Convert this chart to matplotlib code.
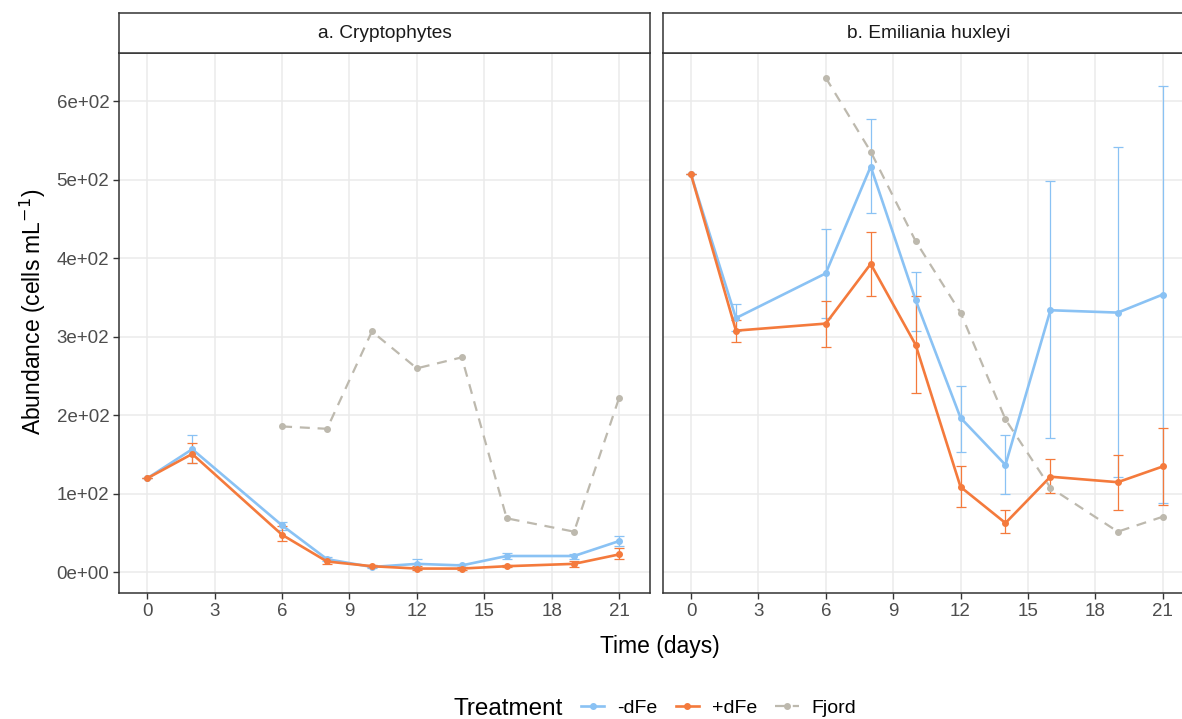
import matplotlib
matplotlib.use("Agg")
import matplotlib.pyplot as plt
import numpy as np

plt.rcParams['font.family'] = ['Liberation Sans', 'DejaVu Sans']

# sampling days
days = [0, 2, 6, 8, 10, 12, 14, 16, 19, 21]
fjord_days = [6, 8, 10, 12, 14, 16, 19, 21]

# a. Cryptophytes
crypto_minus = [120, 157, 60, 17, 7, 11, 9, 21, 21, 40]
crypto_minus_lo = [120, 139, 54, 14, 6, 5, 7, 17, 17, 34]
crypto_minus_hi = [120, 175, 64, 20, 9, 17, 11, 25, 24, 46]
crypto_plus = [120, 151, 48, 14, 8, 5, 5, 8, 11, 23]
crypto_plus_lo = [120, 139, 40, 11, 7, 3, 3, 7, 7, 17]
crypto_plus_hi = [120, 165, 59, 17, 9, 8, 7, 10, 15, 31]
crypto_fjord = [186, 183, 307, 260, 274, 69, 52, 222]

# b. Emiliania huxleyi
ehux_minus = [507, 324, 381, 517, 347, 197, 137, 334, 331, 354]
ehux_minus_lo = [507, 307, 324, 458, 308, 154, 100, 171, 121, 88]
ehux_minus_hi = [507, 342, 437, 577, 383, 238, 175, 498, 542, 620]
ehux_plus = [507, 308, 317, 393, 290, 109, 63, 122, 115, 135]
ehux_plus_lo = [507, 293, 287, 352, 229, 84, 50, 101, 80, 86]
ehux_plus_hi = [507, 322, 346, 434, 352, 135, 79, 144, 150, 184]
ehux_fjord = [630, 536, 422, 331, 195, 108, 52, 71]

panel_titles = ["a. Cryptophytes", "b. Emiliania huxleyi"]
treatments = ["-dFe", "+dFe", "Fjord"]
colors = {"-dFe": "#8AC2F4", "+dFe": "#F47A3C", "Fjord": "#BDB9AE"}
yticks = [0, 100, 200, 300, 400, 500, 600]
ytick_labels = ["0e+00", "1e+02", "2e+02", "3e+02", "4e+02", "5e+02", "6e+02"]
xticks = [0, 3, 6, 9, 12, 15, 18, 21]

W, H = 1182, 719
fig = plt.figure(figsize=(W / 100, H / 100), dpi=100)
fig.patch.set_facecolor("white")

panels = [
    (crypto_minus, crypto_minus_lo, crypto_minus_hi,
     crypto_plus, crypto_plus_lo, crypto_plus_hi, crypto_fjord),
    (ehux_minus, ehux_minus_lo, ehux_minus_hi,
     ehux_plus, ehux_plus_lo, ehux_plus_hi, ehux_fjord),
]
lefts = [119, 662.7]
pw = 531
top, bottom = 52.7, 593.3
strip_top = 13.3

handles = []
for i, (m, mlo, mhi, p, plo, phi, fj) in enumerate(panels):
    ax = fig.add_axes([lefts[i] / W, (H - bottom) / H, pw / W, (bottom - top) / H])
    sax = fig.add_axes([lefts[i] / W, (H - top) / H, pw / W, (top - strip_top) / H])

    # strip
    sax.set_xticks([])
    sax.set_yticks([])
    for s in sax.spines.values():
        s.set_color("#333333")
        s.set_linewidth(1.1)
    sax.text(0.5, 0.5, panel_titles[i], ha="center", va="center",
             fontsize=13.8, color="#1A1A1A", transform=sax.transAxes)

    for name, mean, lo, hi in [("-dFe", m, mlo, mhi), ("+dFe", p, plo, phi)]:
        mean = np.array(mean)
        yerr = [mean - np.array(lo), np.array(hi) - mean]
        ax.errorbar(days, mean, yerr=yerr, fmt="none", ecolor=colors[name],
                    elinewidth=0.9, capsize=3.6, capthick=0.9, zorder=3)
        h, = ax.plot(days, mean, color=colors[name], lw=1.9, marker="o",
                     markersize=4, zorder=4, label=name)
        if i == 0:
            handles.append(h)
    h, = ax.plot(fjord_days, fj, color=colors["Fjord"], lw=1.6, ls=(0, (4.5, 3.5)),
                 marker="o", markersize=4, zorder=5, label="Fjord")
    if i == 0:
        handles.append(h)

    ax.set_xlim(-1.26, 22.38)
    ax.set_ylim(-26.5, 662)
    ax.set_xticks(xticks)
    ax.set_xticklabels([str(t) for t in xticks])
    ax.set_yticks(yticks)
    if i == 0:
        ax.set_yticklabels(ytick_labels)
        ax.tick_params(axis="y", length=4, width=1, color="#333333",
                       labelsize=13.5, labelcolor="#4D4D4D", pad=3)
    else:
        ax.tick_params(axis="y", length=0, labelleft=False)
    ax.tick_params(axis="x", length=4, width=1, color="#333333",
                   labelsize=13.5, labelcolor="#4D4D4D", pad=3)
    ax.grid(True, color="#EBEBEB", lw=1.1, zorder=0)
    ax.set_axisbelow(True)
    for s in ax.spines.values():
        s.set_color("#333333")
        s.set_linewidth(1.1)

fig.text(33 / W, 1 - 312 / H, "Abundance (cells mL$^{-1}$)", rotation=90,
         ha="center", va="center", fontsize=16.5)
fig.text(660 / W, 1 - 646 / H, "Time (days)", ha="center", va="center",
         fontsize=16.5)
fig.text(453 / W, 1 - 709 / H, "Treatment", ha="left", va="center",
         fontsize=17.5)
fig.legend(handles, treatments, loc="center left",
           bbox_to_anchor=(581 / W, 1 - 708 / H), ncol=3, frameon=False,
           fontsize=14, handlelength=1.2, handletextpad=0.65,
           columnspacing=0.95, borderpad=0, borderaxespad=0)

fig.savefig("out.png", dpi=100, facecolor="white")
